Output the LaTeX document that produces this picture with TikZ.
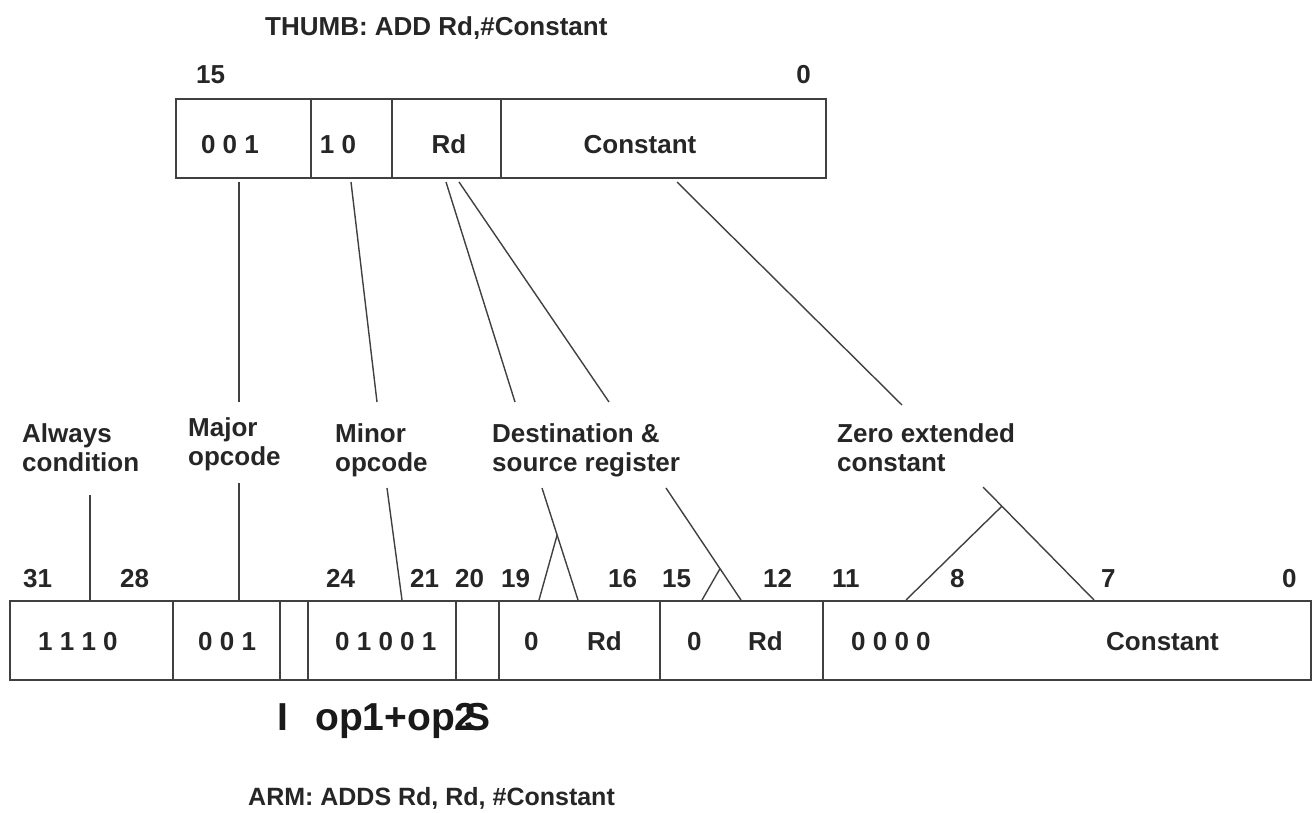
\documentclass[tikz,border=0pt]{standalone}
\usepackage{fontspec}
\setmainfont{Liberation Sans}
\usetikzlibrary{calc}
\begin{document}
\begin{tikzpicture}[x=1pt,y=-1pt,
  lbl/.style={font=\fontsize{26}{29}\selectfont\bfseries, inner sep=0pt, anchor=base west, align=left, text=black!85},
  lblc/.style={lbl, anchor=base},
  lble/.style={lbl, anchor=base east},
  big/.style={font=\fontsize{39}{42}\selectfont\bfseries, inner sep=0pt, anchor=base west, text=black!90},
  fieldbox/.style={draw=black!75, line width=1.8pt, minimum height=79pt, inner sep=0pt, anchor=north west},
  conn/.style={draw=black!75, line width=1.4pt}]
\useasboundingbox (0,0) rectangle (1316,812);

% ---------- THUMB ----------
\node[lbl] (ttitle) at (265,35) {THUMB: ADD Rd,\#Constant};
\node[lbl] (t15) at (196,83) {15};
\node[lble] (t0) at (811,83) {0};
\node[fieldbox, minimum width=135pt] (tf1) at (175,98) {};
\node[fieldbox, minimum width=81pt] (tf2) at (310,98) {};
\node[fieldbox, minimum width=109pt] (tf3) at (391,98) {};
\node[fieldbox, minimum width=325pt] (tf4) at (500,98) {};
\node[lblc] (tt1) at (230,153) {0 0 1};
\node[lblc] (tt2) at (338,153) {1 0};
\node[lblc] (tt3) at (449,153) {Rd};
\node[lblc] (tt4) at (640,153) {Constant};

% ---------- labels (base = baseline of last line) ----------
\node[lbl] (lalw) at (22,471) {Always\\condition};
\node[lbl] (lmaj) at (188,465) {Major\\opcode};
\node[lbl] (lmin) at (335,471) {Minor\\opcode};
\node[lbl] (ldst) at (492,471) {Destination \&\\source register};
\node[lbl] (lzer) at (837,471) {Zero extended\\constant};

% ---------- ARM ----------
\foreach \n/\x/\t in {b31/23/31, b28/120/28, b24/326/24, b21/410/21, b20/455/20, b19/501/19,
  b16/608/16, b15/662/15, b12/763/12, b11/832/11, b8/950/8, b7/1101/7, b0/1282/0}
  \node[lbl] (\n) at (\x,587) {\t};

\node[fieldbox, minimum width=163pt] (af1) at (9,600) {};
\node[fieldbox, minimum width=107pt] (af2) at (172,600) {};
\node[fieldbox, minimum width=28pt]  (af3) at (279,600) {};
\node[fieldbox, minimum width=148pt] (af4) at (307,600) {};
\node[fieldbox, minimum width=43pt]  (af5) at (455,600) {};
\node[fieldbox, minimum width=161pt] (af6) at (498,600) {};
\node[fieldbox, minimum width=163pt] (af7) at (659,600) {};
\node[fieldbox, minimum width=488pt] (af8) at (822,600) {};

\node[lbl] (at1) at (38,650) {1 1 1 0};
\node[lbl] (at2) at (198,650) {0 0 1};
\node[lbl] (at4) at (335,650) {0 1 0 0 1};
\node[lbl] (at6a) at (524,650) {0};
\node[lbl] (at6b) at (587,650) {Rd};
\node[lbl] (at7a) at (687,650) {0};
\node[lbl] (at7b) at (748,650) {Rd};
\node[lbl] (at8a) at (851,650) {0 0 0 0};
\node[lbl] (at8b) at (1106,650) {Constant};

\node[big] (bI) at (277,730) {I};
\node[big] (bop) at (315,730) {op1+op2};
\node[big] (bS) at (464,730) {S};
\node[lbl, font=\fontsize{25}{28}\selectfont\bfseries] (atitle) at (248,805) {ARM: ADDS Rd, Rd, \#Constant};

% ---------- connectors: THUMB to labels ----------
\coordinate (c1a) at (239,182);  \coordinate (c1b) at (239,402);
\coordinate (c2a) at (351,182);  \coordinate (c2b) at (377,402);
\coordinate (c3a) at (446,182);  \coordinate (c3b) at (515,402);
\coordinate (c4a) at (459,182);  \coordinate (c4b) at (609,402);
\coordinate (c5a) at (677,182);  \coordinate (c5b) at (902,405);
\draw[conn] (c1a) -- (c1b);
\draw[conn] (c2a) -- (c2b);
\draw[conn] (c3a) -- (c3b);
\draw[conn] (c4a) -- (c4b);
\draw[conn] (c5a) -- (c5b);

% ---------- connectors: labels to ARM ----------
\coordinate (d1a) at (90,495);   \coordinate (d1b) at (90,600);
\coordinate (d2a) at (239,483);  \coordinate (d2b) at (239,600);
\coordinate (d3a) at (387,488);  \coordinate (d3b) at (402,600);
\coordinate (d4a) at (542,488);  \coordinate (d4b) at (578,600);  \coordinate (d4c) at (539,600);
\coordinate (d5a) at (666,488);  \coordinate (d5b) at (741,600);  \coordinate (d5c) at (702,600);
\coordinate (d6a) at (983,487);  \coordinate (d6b) at (1094,600); \coordinate (d6c) at (906,600);
\draw[conn] (d1a) -- (d1b);
\draw[conn] (d2a) -- (d2b);
\draw[conn] (d3a) -- (d3b);
\draw[conn] (d4a) -- (d4b);
\draw[conn] (d4c) -- ($(d4a)!0.42!(d4b)$);
\draw[conn] (d5a) -- (d5b);
\draw[conn] (d5c) -- ($(d5a)!0.72!(d5b)$);
\draw[conn] (d6a) -- (d6b);
\draw[conn] (d6c) -- ($(d6a)!0.17!(d6b)$);
\end{tikzpicture}
\end{document}
